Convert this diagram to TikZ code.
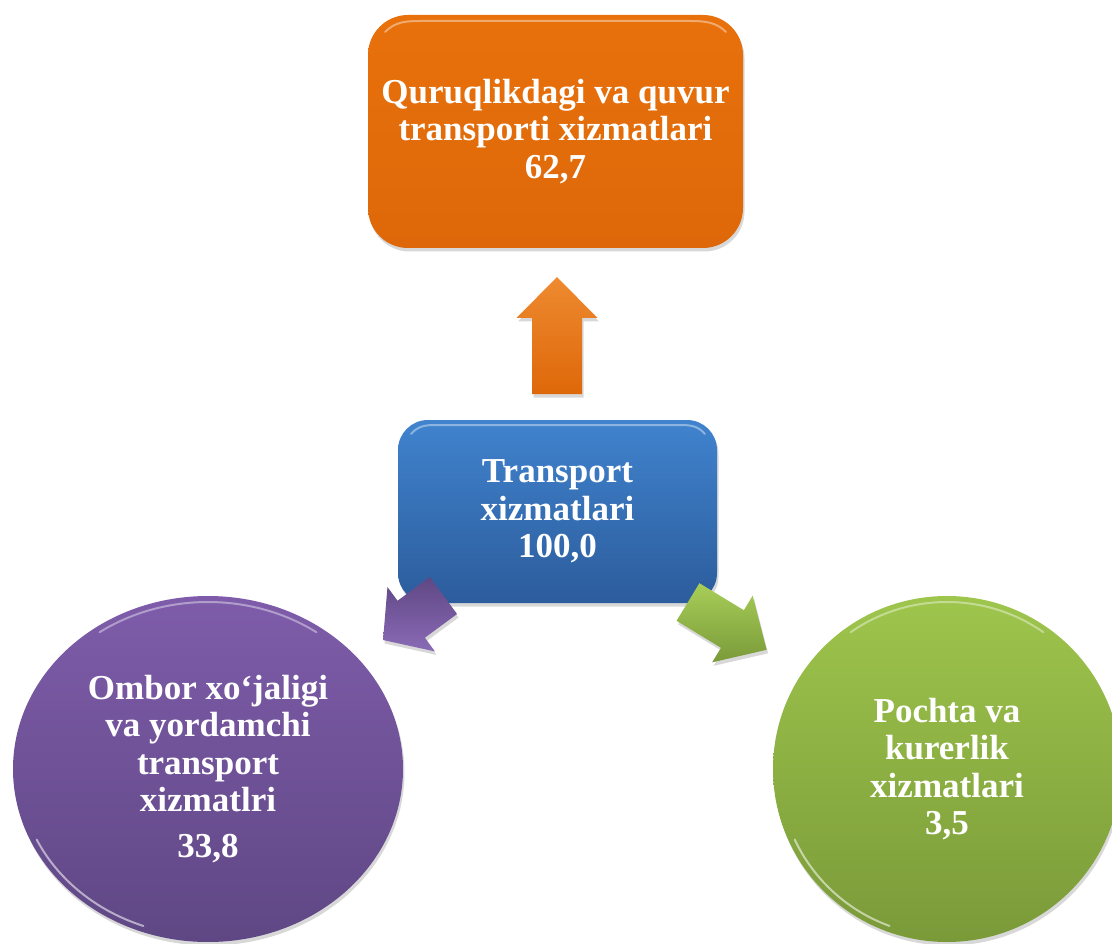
\documentclass[tikz,border=0pt]{standalone}
\usepackage{fontspec}
\setmainfont{Liberation Serif}
\usetikzlibrary{shapes.geometric,shadows}
\definecolor{orTop}{HTML}{E8710C}
\definecolor{orBot}{HTML}{DE6809}
\definecolor{orLight}{HTML}{EE8A30}
\definecolor{blTop}{HTML}{4083CE}
\definecolor{blBot}{HTML}{2C5C9C}
\definecolor{puTop}{HTML}{7E5CAA}
\definecolor{puBot}{HTML}{5F4784}
\definecolor{puLight}{HTML}{8A6AB6}
\definecolor{grTop}{HTML}{9EC54C}
\definecolor{grBot}{HTML}{7A9A39}
\definecolor{grLight}{HTML}{A8CE58}
\begin{document}
\begin{tikzpicture}[x=1pt,y=-1pt,
  txt/.style={text=white,font=\fontsize{35}{37.5}\selectfont\bfseries,align=center},
  softshadow/.style={drop shadow={shadow xshift=1.5pt,shadow yshift=-3.5pt,opacity=.22,fill=black!70}},
  rbox/.style={rectangle,inner sep=0pt,softshadow,txt},
  blob/.style={ellipse,inner sep=0pt,softshadow,txt},
  hl/.style={draw=white,line width=2pt,opacity=.4,line cap=round},
  blockarrow/.style={softshadow}]
\useasboundingbox (0,0) rectangle (1112,944);

% circles
\node[blob,minimum width=390pt,minimum height=346pt,top color=puTop,bottom color=puBot]
  (ombor) at (208,769) {Ombor xo‘jaligi\\va yordamchi\\transport\\xizmatlri\\[8pt]33,8};
\node[blob,minimum width=348pt,minimum height=346pt,top color=grTop,bottom color=grBot]
  (pochta) at (947,769) {Pochta va\\kurerlik\\xizmatlari\\3,5};
\draw[hl] ([shift={(125:189pt and 167pt)}]ombor.center)
  arc[start angle=125,end angle=55,x radius=189pt,y radius=167pt];
\draw[hl,opacity=.55] ([shift={(250:189pt and 167pt)}]ombor.center)
  arc[start angle=250,end angle=205,x radius=189pt,y radius=167pt];
\draw[hl] ([shift={(125:168pt and 167pt)}]pochta.center)
  arc[start angle=125,end angle=55,x radius=168pt,y radius=167pt];
\draw[hl,opacity=.55] ([shift={(250:168pt and 167pt)}]pochta.center)
  arc[start angle=250,end angle=205,x radius=168pt,y radius=167pt];

% top box
\node[rbox,minimum width=375pt,minimum height=233pt,rounded corners=40pt,
  top color=orTop,bottom color=orBot] (quruq) at (555.5,131.5)
  {Quruqlikdagi va quvur\\transporti xizmatlari\\62,7};
\draw[hl] (385,32) .. controls (395,22) and (405,21) .. (420,21) -- (690,21)
  .. controls (705,21) and (716,22) .. (726,32);

% up arrow
\coordinate (oTail) at (557,394);
\begin{scope}[shift={(oTail)},rotate=90]
  \path[blockarrow,top color=orLight,bottom color=orBot]
    (0pt,-25pt) -- (76pt,-25pt) -- (76pt,-40.5pt) -- (117pt,0pt) -- (76pt,40.5pt)
    -- (76pt,25pt) -- (0pt,25pt) -- cycle;
\end{scope}

% centre box
\node[rbox,minimum width=319pt,minimum height=183pt,rounded corners=30pt,
  top color=blTop,bottom color=blBot] (trans) at (557.5,511.5)
  {Transport\\xizmatlari\\100,0};
\draw[hl] (411,434) .. controls (418,426) and (425,425) .. (436,425) -- (680,425)
  .. controls (691,425) and (698,426) .. (705,434);

% purple arrow
\coordinate (pTail) at (443.4,595.5);
\begin{scope}[shift={(pTail)},rotate=-143.6]
  \path[blockarrow,top color=puBot,bottom color=puLight]
    (0pt,-23pt) -- (40pt,-23pt) -- (40pt,-40pt) -- (75pt,0pt) -- (40pt,40pt)
    -- (40pt,23pt) -- (0pt,23pt) -- cycle;
\end{scope}

% green arrow
\coordinate (gTail) at (688,602);
\begin{scope}[shift={(gTail)},rotate=-31.3]
  \path[blockarrow,top color=grLight,bottom color=grBot]
    (0pt,-22pt) -- (52pt,-22pt) -- (52pt,-39pt) -- (92pt,0pt) -- (52pt,39pt)
    -- (52pt,22pt) -- (0pt,22pt) -- cycle;
\end{scope}
\end{tikzpicture}
\end{document}
